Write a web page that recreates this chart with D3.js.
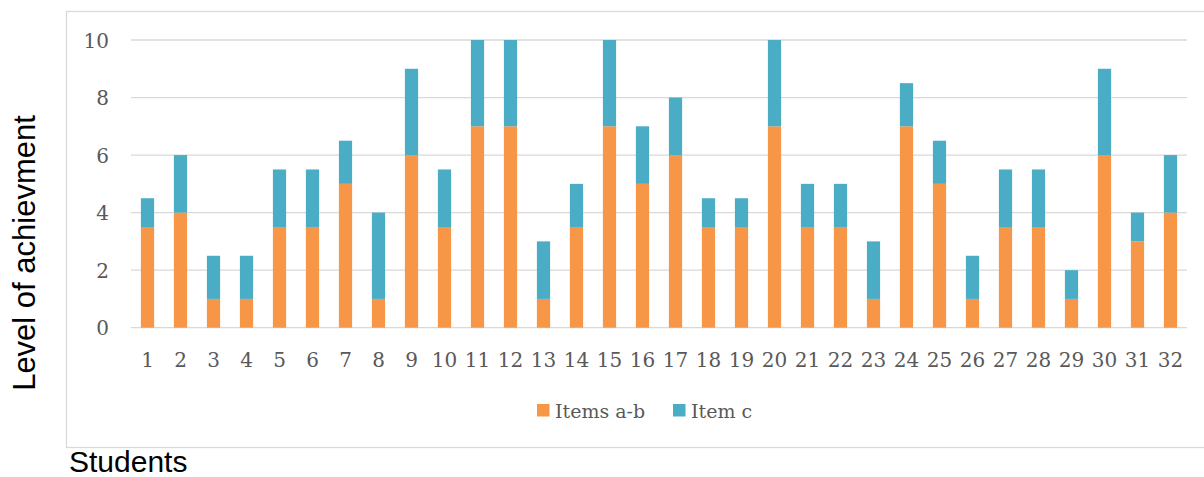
<!DOCTYPE html>
<html>
<head>
<meta charset="utf-8">
<script src="https://cdn.jsdelivr.net/npm/d3@7"></script>
<style>
  html, body { margin: 0; padding: 0; background: #fff; }
  svg { display: block; }
</style>
</head>
<body>
<svg id="chart" width="1204" height="477"></svg>
<script>
// Students 1..32
const students = d3.range(1, 33).map(String);
// Score on items a-b (bottom segment)
const itemsAB = [3.5, 4, 1, 1, 3.5, 3.5, 5, 1, 6, 3.5, 7, 7, 1, 3.5, 7, 5,
                 6, 3.5, 3.5, 7, 3.5, 3.5, 1, 7, 5, 1, 3.5, 3.5, 1, 6, 3, 4];
// Score on item c (top segment)
const itemC = [1, 2, 1.5, 1.5, 2, 2, 1.5, 3, 3, 2, 3, 3, 2, 1.5, 3, 2,
               2, 1, 1, 3, 1.5, 1.5, 2, 1.5, 1.5, 1.5, 2, 2, 1, 3, 1, 2];
const seriesNames = ["Items a-b", "Item c"];
const yTicks = [0, 2, 4, 6, 8, 10];

const colors = { "Items a-b": "#F79646", "Item c": "#4BACC6" };
const serifFont = "'DejaVu Serif', serif";
const sansFont = "'Liberation Sans', Arial, sans-serif";
const textGray = "#595959";
const gridGray = "#d9d9d9";

const rows = students.map((s, i) => ({
  student: s,
  "Items a-b": itemsAB[i],
  "Item c": itemC[i]
}));

const svg = d3.select("#chart");

// outer chart frame (runs off the right edge)
svg.append("rect")
  .attr("x", 66.5).attr("y", 11.5)
  .attr("width", 1150).attr("height", 436)
  .attr("fill", "none")
  .attr("stroke", gridGray)
  .attr("stroke-width", 1.3);

const x = d3.scaleBand()
  .domain(students)
  .range([131, 1187])
  .paddingInner(0.6)
  .paddingOuter(0.3);

const y = d3.scaleLinear()
  .domain([0, 10])
  .range([327.7, 40]);

// horizontal gridlines
svg.append("g")
  .selectAll("line")
  .data(yTicks)
  .join("line")
  .attr("x1", 131).attr("x2", 1187)
  .attr("y1", d => y(d)).attr("y2", d => y(d))
  .attr("stroke", gridGray)
  .attr("stroke-width", 1.3);

// y axis labels
const yAxis = d3.axisLeft(y).tickValues(yTicks).tickSize(0).tickPadding(0);
const gy = svg.append("g")
  .attr("transform", "translate(109,0)")
  .call(yAxis);
gy.select(".domain").remove();
gy.selectAll("text")
  .attr("font-family", serifFont)
  .attr("font-size", 20)
  .attr("fill", textGray)
  .attr("dy", "0.35em");

// x axis labels
const xAxis = d3.axisBottom(x).tickSize(0).tickPadding(0);
const gx = svg.append("g")
  .attr("transform", "translate(0,351.5)")
  .call(xAxis);
gx.select(".domain").remove();
gx.selectAll("text")
  .attr("font-family", serifFont)
  .attr("font-size", 20)
  .attr("fill", textGray)
  .attr("dy", "0.75em");

// stacked bars
const stack = d3.stack().keys(seriesNames);
const layers = stack(rows);

svg.append("g")
  .selectAll("g")
  .data(layers)
  .join("g")
  .attr("fill", d => colors[d.key])
  .selectAll("rect")
  .data(d => d)
  .join("rect")
  .attr("x", d => x(d.data.student))
  .attr("width", x.bandwidth())
  .attr("y", d => y(d[1]))
  .attr("height", d => y(d[0]) - y(d[1]));

// legend
const legendItems = [
  { name: "Items a-b", x: 537 },
  { name: "Item c", x: 673 }
];
const legend = svg.append("g");
legendItems.forEach(it => {
  legend.append("rect")
    .attr("x", it.x).attr("y", 404)
    .attr("width", 12.5).attr("height", 12.5)
    .attr("fill", colors[it.name]);
  legend.append("text")
    .attr("x", it.x + 18).attr("y", 418)
    .attr("font-family", serifFont)
    .attr("font-size", 19)
    .attr("fill", textGray)
    .text(it.name);
});

// axis titles
svg.append("text")
  .attr("transform", "translate(35,253) rotate(-90)")
  .attr("text-anchor", "middle")
  .attr("font-family", sansFont)
  .attr("font-size", 31)
  .attr("fill", "#000")
  .text("Level of achievment");

svg.append("text")
  .attr("x", 69).attr("y", 472)
  .attr("font-family", sansFont)
  .attr("font-size", 30)
  .attr("fill", "#000")
  .text("Students");
</script>
</body>
</html>
